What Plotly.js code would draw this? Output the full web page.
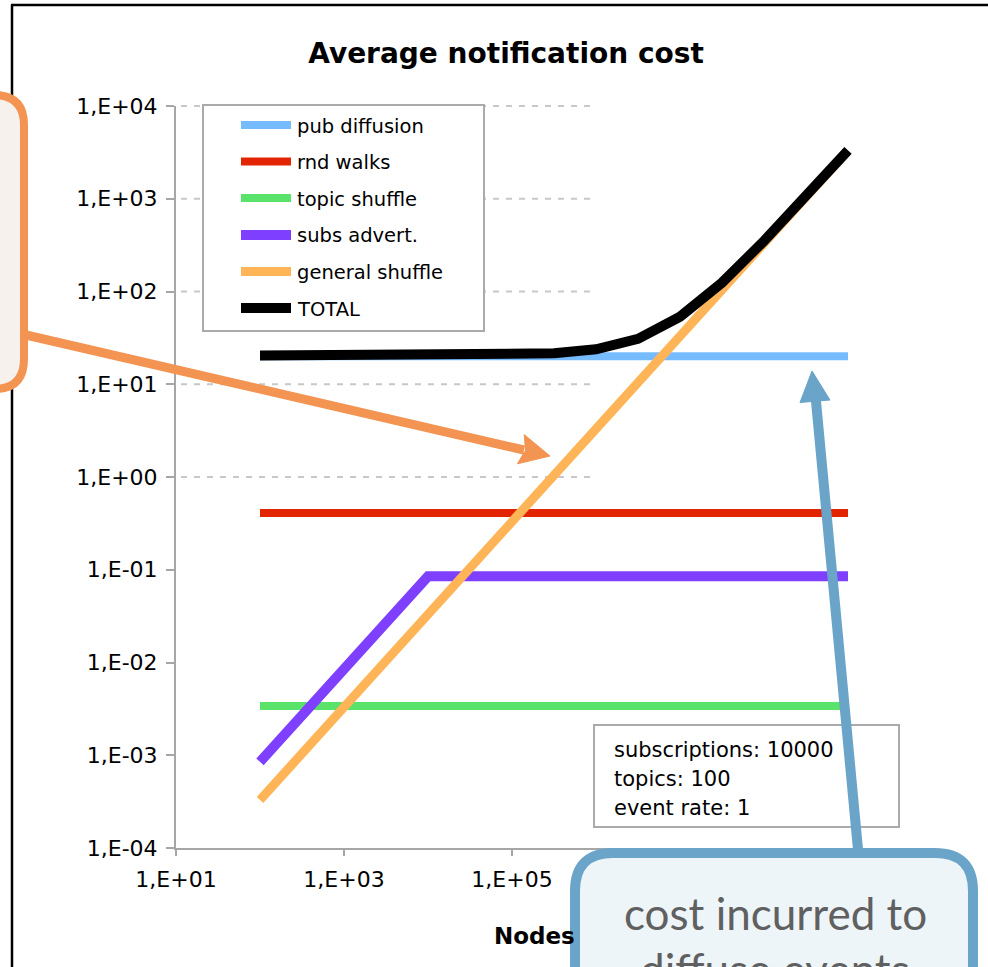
<!DOCTYPE html>
<html>
<head>
<meta charset="utf-8">
<script src="https://cdn.plot.ly/plotly-3.0.1.min.js"></script>
<style>
html,body{margin:0;padding:0;background:#ffffff;}
#chart{width:988px;height:967px;}
</style>
</head>
<body>
<div id="chart"></div>
<script>
// ---------------- DATA ----------------
const nodes = [100, 316, 1000, 3162, 10000, 31623, 100000, 316228, 1000000, 3162278, 10000000, 31622777, 100000000, 316227766, 1000000000];
const pubDiffusion   = [20, 20, 20, 20, 20, 20, 20, 20, 20, 20, 20, 20, 20, 20, 20];
const rndWalks       = [0.41, 0.41, 0.41, 0.41, 0.41, 0.41, 0.41, 0.41, 0.41, 0.41, 0.41, 0.41, 0.41, 0.41, 0.41];
const topicShuffle   = [0.0034, 0.0034, 0.0034, 0.0034, 0.0034, 0.0034, 0.0034, 0.0034, 0.0034, 0.0034, 0.0034, 0.0034, 0.0034, 0.0034, 0.0034];
const subsAdvert     = [0.00085, 0.0027, 0.0085, 0.027, 0.085, 0.085, 0.085, 0.085, 0.085, 0.085, 0.085, 0.085, 0.085, 0.085, 0.085];
const generalShuffle = [0.00033, 0.00104, 0.0033, 0.0104, 0.033, 0.104, 0.33, 1.04, 3.3, 10.4, 33, 104, 330, 1044, 3300];
const total          = [20.41, 20.42, 20.43, 20.45, 20.53, 20.6, 20.83, 21.54, 23.8, 30.9, 53.5, 124.5, 350.5, 1064.5, 3320.5];

const seriesNames  = ['pub diffusion', 'rnd walks', 'topic shuffle', 'subs advert.', 'general shuffle', 'TOTAL'];
const seriesValues = [pubDiffusion, rndWalks, topicShuffle, subsAdvert, generalShuffle, total];

// x tick labels beyond 1E+05 are hidden by the callout in the reference
const xTickVals = [1e1, 1e3, 1e5];
const xTickText = ['1,E+01', '1,E+03', '1,E+05'];
const yTickVals = [1e-4, 1e-3, 1e-2, 1e-1, 1e0, 1e1, 1e2, 1e3, 1e4];
const yTickText = ['1,E-04', '1,E-03', '1,E-02', '1,E-01', '1,E+00', '1,E+01', '1,E+02', '1,E+03', '1,E+04'];
const gridVals  = [1e0, 1e1, 1e2, 1e3, 1e4];

const chartTitle = 'Average notification cost';
const xTitle = 'Nodes';
const infoLines = ['subscriptions: 10000', 'topics: 100', 'event rate: 1'];
const calloutLines = ['cost incurred to', 'diffuse events'];

// ---------------- STYLE ----------------
const colors = ['#77BBFF', '#E32400', '#5AE36A', '#7F3FFF', '#FFB557', '#000000'];
const widths = [8, 8, 8, 10, 9, 10];
const FONT = 'DejaVu Sans, Verdana, sans-serif';

// plot area in pixels
const L = 176, R = 932, T = 106, B = 848;
const px = x => (x - L) / (R - L);
const py = y => (B - y) / (B - T);
const X_RANGE = [1, 10], Y_RANGE = [-4, 4];
const yToPaper = v => (Math.log10(v) - Y_RANGE[0]) / (Y_RANGE[1] - Y_RANGE[0]);

function rr(x0, y0, x1, y1, r) {
  const P = (x, y) => px(x).toFixed(5) + ',' + py(y).toFixed(5);
  return 'M' + P(x0 + r, y0) + ' L' + P(x1 - r, y0) + ' Q' + P(x1, y0) + ' ' + P(x1, y0 + r) +
         ' L' + P(x1, y1 - r) + ' Q' + P(x1, y1) + ' ' + P(x1 - r, y1) +
         ' L' + P(x0 + r, y1) + ' Q' + P(x0, y1) + ' ' + P(x0, y1 - r) +
         ' L' + P(x0, y0 + r) + ' Q' + P(x0, y0) + ' ' + P(x0 + r, y0) + ' Z';
}
function poly(pts) {
  return 'M' + pts.map(p => px(p[0]).toFixed(5) + ',' + py(p[1]).toFixed(5)).join(' L') + ' Z';
}

// ---------------- TRACES ----------------
const traces = seriesNames.map((name, i) => ({
  type: 'scatter', mode: 'lines', name: name,
  x: nodes, y: seriesValues[i],
  line: { color: colors[i], width: widths[i] },
  showlegend: false, hoverinfo: 'skip'
}));

// ---------------- SHAPES ----------------
const shapes = [];
const ann = [];
// outer frame
shapes.push({type:'line', xref:'paper', yref:'paper', x0:px(12), x1:px(12), y0:py(5), y1:py(990), line:{color:'#000', width:2.5}, layer:'below'});
shapes.push({type:'line', xref:'paper', yref:'paper', x0:px(11), x1:px(1000), y0:py(5), y1:py(5), line:{color:'#000', width:2.5}, layer:'below'});
// dashed gridlines (only the upper part, left side)
gridVals.forEach(v => {
  shapes.push({type:'line', xref:'paper', yref:'paper', x0:px(181), x1:px(590), y0:yToPaper(v), y1:yToPaper(v),
    line:{color:'#C8C8C8', width:2, dash:'6px,7px'}, layer:'below'});
});
// legend box
shapes.push({type:'rect', xref:'paper', yref:'paper', x0:px(203), x1:px(484), y0:py(105), y1:py(331),
  line:{color:'#AAAAAA', width:2}, fillcolor:'#FFFFFF', layer:'above'});
const legendRowY = [125, 161.5, 198, 235, 271.5, 308];
seriesNames.forEach((name, i) => {
  shapes.push({type:'line', xref:'paper', yref:'paper', x0:px(241), x1:px(291), y0:py(legendRowY[i]), y1:py(legendRowY[i]),
    line:{color:colors[i], width:widths[i]}, layer:'above'});
  ann.push({xref:'paper', yref:'paper', x:px(295), y:py(legendRowY[i] + 1), xanchor:'left', yanchor:'middle',
    text:name, showarrow:false, font:{family:FONT, size:19.5, color:'#000'}});
});
// info box
shapes.push({type:'rect', xref:'paper', yref:'paper', x0:px(594), x1:px(899), y0:py(725), y1:py(827),
  line:{color:'#AAAAAA', width:2}, fillcolor:'#FFFFFF', layer:'above'});
const infoY = [750, 779, 808];
infoLines.forEach((t, i) => {
  ann.push({xref:'paper', yref:'paper', x:px(612), y:py(infoY[i]), xanchor:'left', yanchor:'middle',
    text:t, showarrow:false, font:{family:FONT, size:21, color:'#000'}});
});
// orange callout (left)
const ORANGE = '#F39452', ORANGE_FILL = '#F7F1EE';
shapes.push({type:'path', xref:'paper', yref:'paper', path:rr(-60, 95, 24, 389, 30),
  line:{color:ORANGE, width:8}, fillcolor:ORANGE_FILL, layer:'above'});
shapes.push({type:'line', xref:'paper', yref:'paper', x0:px(26), y0:py(335), x1:px(524), y1:py(450),
  line:{color:ORANGE, width:9}, layer:'above'});
shapes.push({type:'path', xref:'paper', yref:'paper',
  path:poly([[550,456],[517.4,463.8],[525.5,450.3],[524.2,434.6]]),
  line:{color:ORANGE, width:1}, fillcolor:ORANGE, layer:'above'});
// blue callout (bottom right)
const BLUE = '#6AA4C8', BLUE_FILL = '#EEF5F9';
shapes.push({type:'line', xref:'paper', yref:'paper', x0:px(859), y0:py(860), x1:px(815.5), y1:py(396),
  line:{color:BLUE, width:10}, layer:'above'});
shapes.push({type:'path', xref:'paper', yref:'paper',
  path:poly([[812,371],[830,400],[800,402.5]]),
  line:{color:BLUE, width:1}, fillcolor:BLUE, layer:'above'});
shapes.push({type:'path', xref:'paper', yref:'paper', path:rr(575, 853, 973, 1040, 38),
  line:{color:BLUE, width:10}, fillcolor:BLUE_FILL, layer:'above'});
ann.push({xref:'paper', yref:'paper', x:px(775), y:py(913), xanchor:'center', yanchor:'middle',
  text:calloutLines[0], showarrow:false, font:{family:'Lato, Open Sans, sans-serif', size:44, color:'#606060'}});
ann.push({xref:'paper', yref:'paper', x:px(775), y:py(969), xanchor:'center', yanchor:'middle',
  text:calloutLines[1], showarrow:false, font:{family:'Lato, Open Sans, sans-serif', size:44, color:'#606060'}});
// x-axis title
ann.push({xref:'paper', yref:'paper', x:px(534), y:py(936), xanchor:'center', yanchor:'middle',
  text:'<b>' + xTitle + '</b>', showarrow:false, font:{family:FONT, size:23, color:'#000'}});

// ---------------- LAYOUT ----------------
const axisCommon = {
  type:'log', showgrid:false, zeroline:false, showline:true, linecolor:'#A6A6A6', linewidth:2,
  ticks:'outside', tickcolor:'#A6A6A6', tickwidth:2,
  tickfont:{family:FONT, size:22, color:'#000'}
};
const layout = {
  width:988, height:967,
  margin:{l:L, r:988 - R, t:T, b:967 - B, pad:0},
  paper_bgcolor:'#FFFFFF', plot_bgcolor:'#FFFFFF',
  showlegend:false,
  title:{text:'<b>' + chartTitle + '</b>', font:{family:FONT, size:28, color:'#000'},
    xref:'paper', x:px(506), xanchor:'center', yref:'container', y:1 - 53 / 967, yanchor:'middle'},
  xaxis:Object.assign({}, axisCommon, {range:X_RANGE, tickmode:'array', tickvals:xTickVals, ticktext:xTickText, ticklen:6, ticklabelstandoff:5}),
  yaxis:Object.assign({}, axisCommon, {range:Y_RANGE, tickmode:'array', tickvals:yTickVals, ticktext:yTickText, ticklen:8, ticklabelstandoff:4}),
  shapes:shapes,
  annotations:ann
};

Plotly.newPlot('chart', traces, layout, {displayModeBar:false, staticPlot:true});
</script>
</body>
</html>
